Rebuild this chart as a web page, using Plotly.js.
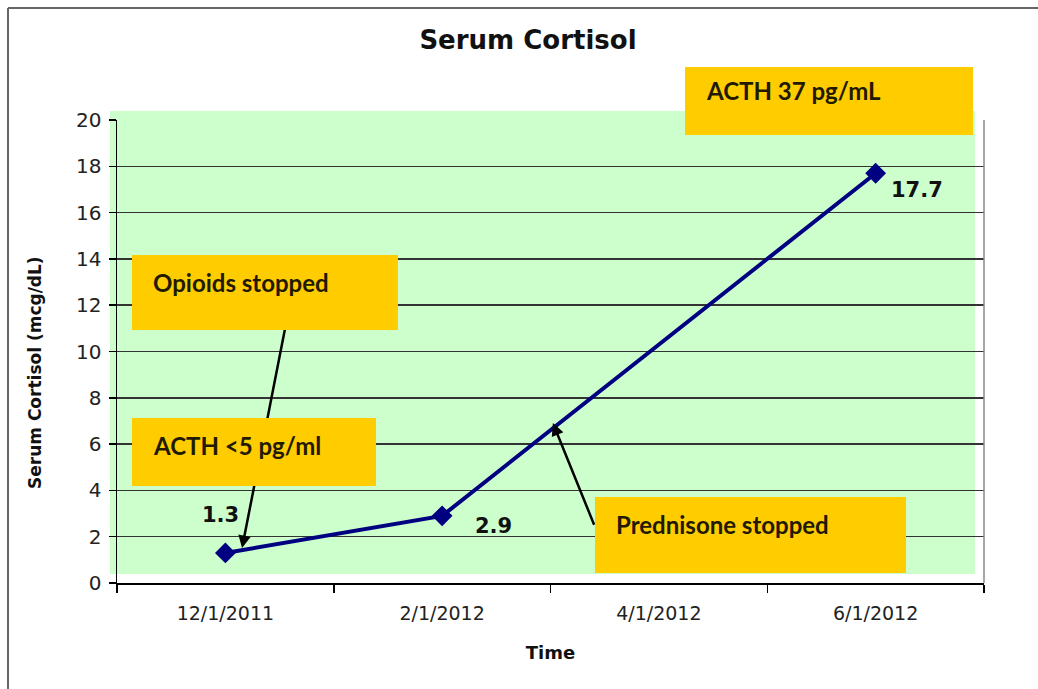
<!DOCTYPE html>
<html>
<head>
<meta charset="utf-8">
<script src="https://cdn.plot.ly/plotly-3.0.1.min.js"></script>
<style>html,body{margin:0;padding:0;background:#fff;}#chart{width:1038px;height:689px;}</style>
</head>
<body>
<div id="chart"></div>
<script>
// ---- data ----
const dates = ['12/1/2011', '2/1/2012', '4/1/2012', '6/1/2012'];
const cortisol = [1.3, 2.9, null, 17.7];
const yTicks = [0, 2, 4, 6, 8, 10, 12, 14, 16, 18, 20];
const chartTitle = 'Serum Cortisol';
const xTitle = 'Time';
const yTitle = 'Serum Cortisol (mcg/dL)';
const noteTexts = ['ACTH 37 pg/mL', 'Opioids stopped', 'ACTH <5 pg/ml', 'Prednisone stopped'];

// ---- styling / layout helpers ----
const W = 1038, H = 689;
const M = {l: 117, r: 54, t: 120, b: 106};
const PW = W - M.l - M.r, PH = H - M.t - M.b;
const px = x => (x - M.l) / PW;          // pixel -> paper x
const py = y => (H - M.b - y) / PH;      // pixel -> paper y

const labelOffsets = [[-5, 38], [51, -10], null, [41, -17]];
const labelAnn = [];
cortisol.forEach((v, i) => {
  if (v === null) return;
  labelAnn.push({
    x: dates[i], y: v, xref: 'x', yref: 'y', text: v.toFixed(1), showarrow: false,
    xshift: labelOffsets[i][0], yshift: labelOffsets[i][1],
    font: {family: 'DejaVu Sans', size: 21, color: '#111', weight: 'bold'}
  });
});

// arrows (drawn first so boxes cover them)
const arrowAnn = [
  {x: 0.077, y: 1.51, ax: 0.284, ay: 11.4},
  {x: 1.511, y: 6.91, ax: 1.715, ay: 2.2}
].map(a => ({
  x: a.x, y: a.y, ax: a.ax, ay: a.ay, xref: 'x', yref: 'y', axref: 'x', ayref: 'y',
  text: ' ', showarrow: true, arrowhead: 2, arrowsize: 1, arrowwidth: 2.5,
  arrowcolor: '#000', standoff: 0, startstandoff: 0
}));

// note boxes (pixel geometry) and their text positions
const boxes = [
  {l: 685, t: 67, w: 288, h: 68, tx: 705, ty: 91},
  {l: 132, t: 255, w: 266, h: 75, tx: 152, ty: 282},
  {l: 132, t: 418, w: 244, h: 68, tx: 152, ty: 446},
  {l: 595, t: 497, w: 311, h: 76, tx: 615, ty: 524}
];
const boxAnn = boxes.map(b => ({
  x: px(b.l), y: py(b.t), xref: 'paper', yref: 'paper', xanchor: 'left', yanchor: 'top',
  text: ' ', showarrow: false, width: b.w, height: b.h, borderpad: 0, borderwidth: 0,
  bgcolor: '#FFCC00', font: {size: 10}
}));
const boxTextAnn = boxes.map((b, i) => ({
  x: px(b.tx), y: py(b.ty), xref: 'paper', yref: 'paper', xanchor: 'left', yanchor: 'middle',
  text: noteTexts[i], showarrow: false, borderpad: 0,
  font: {family: 'Lato', size: 24, color: '#221a00', weight: 'bold'}
}));

const yTitleAnn = {
  x: px(35), y: py(373), xref: 'paper', yref: 'paper', xanchor: 'center', yanchor: 'middle',
  text: yTitle, textangle: -90, showarrow: false,
  font: {family: 'DejaVu Sans', size: 17, color: '#111', weight: 'bold'}
};

const trace = {
  x: dates, y: cortisol, type: 'scatter', mode: 'lines+markers', connectgaps: true,
  line: {color: '#000080', width: 4},
  marker: {symbol: 'diamond', size: 16, color: '#000080'},
  cliponaxis: false, hoverinfo: 'x+y', showlegend: false
};

const layout = {
  width: W, height: H,
  margin: M,
  paper_bgcolor: '#ffffff', plot_bgcolor: 'rgba(0,0,0,0)',
  showlegend: false,
  title: {
    text: chartTitle, x: 528 / W, xref: 'container', xanchor: 'center',
    y: 1 - 40 / H, yref: 'container', yanchor: 'middle',
    font: {family: 'DejaVu Sans', size: 26, color: '#111', weight: 'bold'}
  },
  xaxis: {
    type: 'category', categoryorder: 'array', categoryarray: dates, range: [-0.5, 3.5],
    tickson: 'boundaries', ticks: 'outside', ticklen: 8, tickwidth: 1.5, tickcolor: '#000',
    ticklabelstandoff: 12,
    showline: true, linecolor: '#000', linewidth: 2, showgrid: false, zeroline: false,
    tickfont: {family: 'DejaVu Sans', size: 19, color: '#222'},
    title: {text: xTitle, standoff: 24, font: {family: 'DejaVu Sans', size: 18, color: '#111', weight: 'bold'}},
    fixedrange: true
  },
  yaxis: {
    range: [0, 20], tickmode: 'array', tickvals: yTicks, ticktext: yTicks.map(String),
    ticks: 'outside', ticklen: 7, tickwidth: 1.5, tickcolor: '#000', ticklabelstandoff: 3,
    showline: true, linecolor: '#000', linewidth: 1.5,
    showgrid: true, gridcolor: '#333', gridwidth: 1.5, zeroline: false,
    tickfont: {family: 'DejaVu Sans', size: 20, color: '#222'},
    fixedrange: true
  },
  shapes: [
    // green plot background (offset like the original)
    {type: 'rect', xref: 'paper', yref: 'paper', x0: px(110), x1: px(975), y0: py(574), y1: py(111),
     fillcolor: '#ccffcc', line: {width: 0}, layer: 'below'},
    // right border of plot area
    {type: 'line', xref: 'paper', yref: 'paper', x0: 1, x1: 1, y0: 0, y1: 1,
     line: {color: '#888', width: 1.5}, layer: 'above'},
    // outer frame (left and top)
    {type: 'line', xref: 'paper', yref: 'paper', x0: px(8), x1: px(8), y0: py(8), y1: py(700),
     line: {color: '#666', width: 2}},
    {type: 'line', xref: 'paper', yref: 'paper', x0: px(8), x1: px(1045), y0: py(8), y1: py(8),
     line: {color: '#666', width: 2}}
  ],
  annotations: [].concat(arrowAnn, boxAnn, boxTextAnn, labelAnn, [yTitleAnn])
};

Plotly.newPlot('chart', [trace], layout, {displayModeBar: false, staticPlot: true});
</script>
</body>
</html>
